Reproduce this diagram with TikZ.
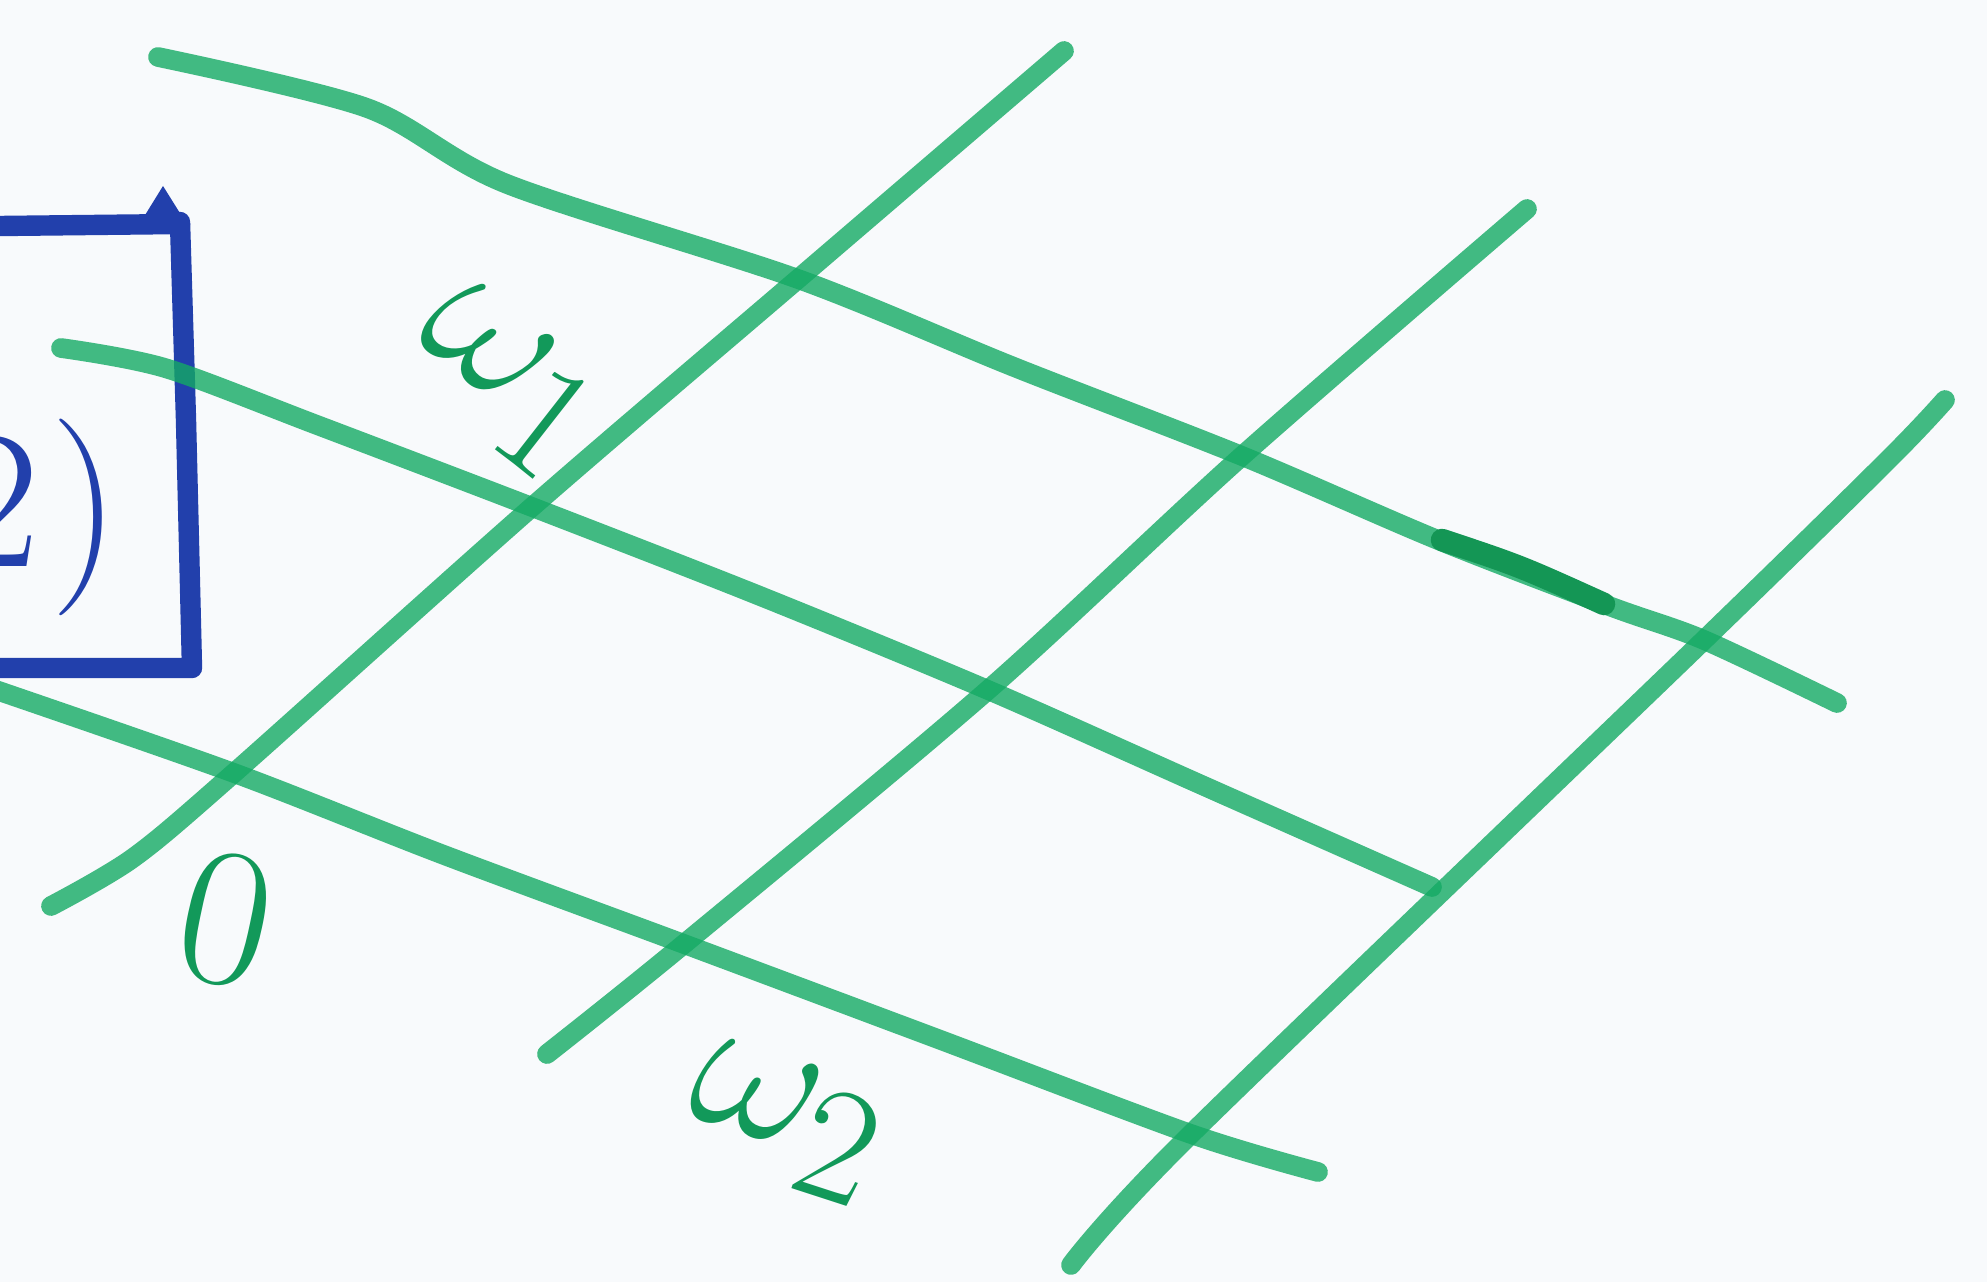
\documentclass[tikz,border=0pt]{standalone}
\usepackage{amsmath}
\usepackage{xcolor}
\usetikzlibrary{calc}

\definecolor{penGreen}{RGB}{20,170,100}
\definecolor{penDark}{RGB}{20,150,85}
\definecolor{penBlue}{RGB}{34,64,172}
\definecolor{paper}{RGB}{248,250,252}

\begin{document}
\begin{tikzpicture}[
    x=0.01cm, y=-0.01cm,
    pen/.style={draw=penGreen, draw opacity=0.8, line width=5.6pt, line cap=round, line join=round},
    boxpen/.style={draw=penBlue, line width=5.8pt, line cap=round, line join=round},
    lbl/.style={text=penGreen!90!black, inner sep=0pt, font=\Huge, scale=2.25}
]

% Paper
\fill[paper] (0,0) rectangle (1987,1282);
\useasboundingbox (0,0) rectangle (1987,1282);
\clip (0,0) rectangle (1987,1282);

% Lattice points
\coordinate (o)   at (234,773);
\coordinate (w1)  at (532,507);
\coordinate (a1)  at (798,279);
\coordinate (w2)  at (684,944);
\coordinate (b2)  at (988,690);
\coordinate (a2)  at (1242,456);
\coordinate (c3)  at (1191,1134);
\coordinate (a3)  at (1704,640);

% Blue box (cut at the left edge)
\draw[boxpen] (0,226) -- (180,224);
\fill[penBlue] (163,186) -- (142,220) -- (188,226) -- cycle;
\draw[boxpen] (180,222) -- (186,420) -- (192,668) -- (0,668);
\node[text=penBlue, inner sep=0pt, anchor=base east, font=\Huge, scale=2.25]
    (boxtext) at (122,566) {$2\mkern1mu)$};

% Rows of the lattice
\draw[pen] plot[smooth] coordinates {(158,57) (367,108) (507,184) (a1) (1014,367) (a2) (1438,540) (1609,606) (a3) (1837,703)};
\draw[pen] plot[smooth] coordinates {(61,348) (165,368) (317,425) (w1) (760,596) (b2) (1204,786) (1432,887)};
\draw[pen] plot[smooth] coordinates {(-10,688) (o) (444,855) (w2) (938,1039) (c3) (1318,1172)};
\draw[draw=penDark, line width=6.4pt, line cap=round] (1442,540) .. controls (1520,566) .. (1604,604);

% Columns of the lattice
\draw[pen] plot[smooth] coordinates {(51,906) (133,858) (o) (w1) (a1) (1064,51)};
\draw[pen] plot[smooth] coordinates {(547,1054) (w2) (b2) (a2) (1527,209)};
\draw[pen] plot[smooth] coordinates {(1071,1265) (c3) (a3) (1890,458) (1945,400)};

% Labels
\node[lbl, rotate=-38] (lw1) at (505,380) {$\omega_{1}$};
\node[lbl, rotate=-12] (lo)  at (226,920) {$0$};
\node[lbl, rotate=-18] (lw2) at (785,1122) {$\omega_{2}$};

\end{tikzpicture}
\end{document}
